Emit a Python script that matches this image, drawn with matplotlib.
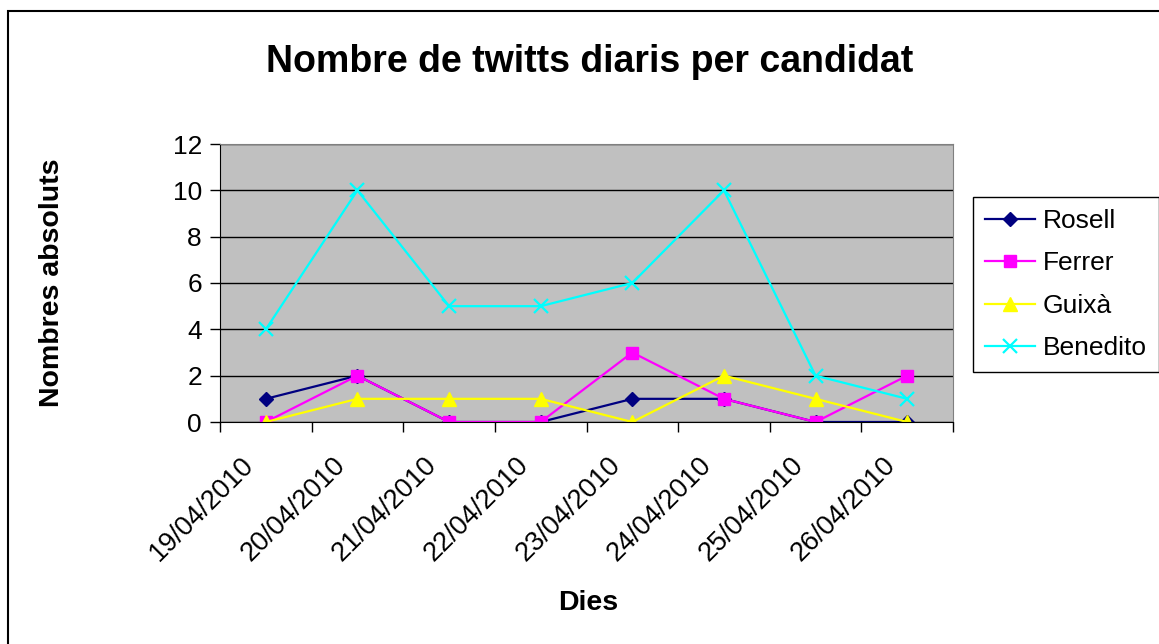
import matplotlib.pyplot as plt
from matplotlib.patches import Rectangle
from matplotlib.transforms import ScaledTranslation

# dades
dies = ["19/04/2010", "20/04/2010", "21/04/2010", "22/04/2010",
        "23/04/2010", "24/04/2010", "25/04/2010", "26/04/2010"]
rosell = [1, 2, 0, 0, 1, 1, 0, 0]
ferrer = [0, 2, 0, 0, 3, 1, 0, 2]
guixa = [0, 1, 1, 1, 0, 2, 1, 0]
benedito = [4, 10, 5, 5, 6, 10, 2, 1]

plt.rcParams['font.family'] = ['Liberation Sans', 'DejaVu Sans']

W, H = 1159, 644
fig = plt.figure(figsize=(W / 100, H / 100), dpi=100)

# marc exterior del gràfic
fig.patches.append(Rectangle((8 / W, -0.1), 1.2, (1 - 11 / H) + 0.1,
                             transform=fig.transFigure, fill=False,
                             edgecolor="black", linewidth=1.5))

ax = fig.add_axes([220 / W, 1 - 422 / H, 733 / W, (422 - 144) / H])
ax.set_facecolor("#C0C0C0")

x = list(range(len(dies)))

ax.plot(x, rosell, color="#000080", marker="D", markersize=7, lw=1.6, label="Rosell")
ax.plot(x, ferrer, color="#FF00FF", marker="s", markersize=8, lw=1.6, label="Ferrer")
ax.plot(x, guixa, color="#FFFF00", marker="^", markersize=10, lw=1.6, label="Guixà")
ax.plot(x, benedito, color="#00FFFF", marker="x", markersize=10, mew=1.6, lw=1.6,
        label="Benedito")

ax.set_ylim(0, 12)
ax.set_yticks(range(0, 13, 2))
ax.set_xlim(-0.5, len(dies) - 0.5)
ax.yaxis.grid(True, color="black", linewidth=1)
ax.set_axisbelow(True)

ax.set_xticks(x)
ax.set_xticklabels(dies, rotation=45, ha="right", va="center",
                   rotation_mode="anchor", fontsize=19.5)
ax.set_xticks([i - 0.5 for i in range(len(dies) + 1)], minor=True)
ax.tick_params(axis="x", which="major", length=0, pad=28)
ax.tick_params(axis="x", which="minor", length=7, direction="out", width=1)
ax.tick_params(axis="y", length=7, width=1, labelsize=19, pad=6)

offset = ScaledTranslation(-16 / 100, 0, fig.dpi_scale_trans)
for lab in ax.get_xticklabels():
    lab.set_transform(lab.get_transform() + offset)

for s in ["top", "right"]:
    ax.spines[s].set_color("#808080")
for s in ["left", "bottom"]:
    ax.spines[s].set_color("black")

fig.text(52 / W, 1 - 283 / H, "Nombres absoluts", rotation=90, ha="center",
         va="center", fontsize=20.5, fontweight="bold")
fig.text(588 / W, 1 - 603 / H, "Dies", ha="center", va="center",
         fontsize=20.5, fontweight="bold")

fig.text(590 / W, 1 - 72 / H, "Nombre de twitts diaris per candidat",
         ha="center", va="baseline", fontsize=27, fontweight="bold")

leg = ax.legend(loc="upper left", bbox_to_anchor=(973 / W, 1 - 197 / H),
                bbox_transform=fig.transFigure, fontsize=19, frameon=True,
                fancybox=False, edgecolor="black", framealpha=1,
                handlelength=1.9, labelspacing=0.7, borderpad=0.45,
                handletextpad=0.3, borderaxespad=0)
leg.get_frame().set_linewidth(1)

fig.savefig("out.png", dpi=100)
